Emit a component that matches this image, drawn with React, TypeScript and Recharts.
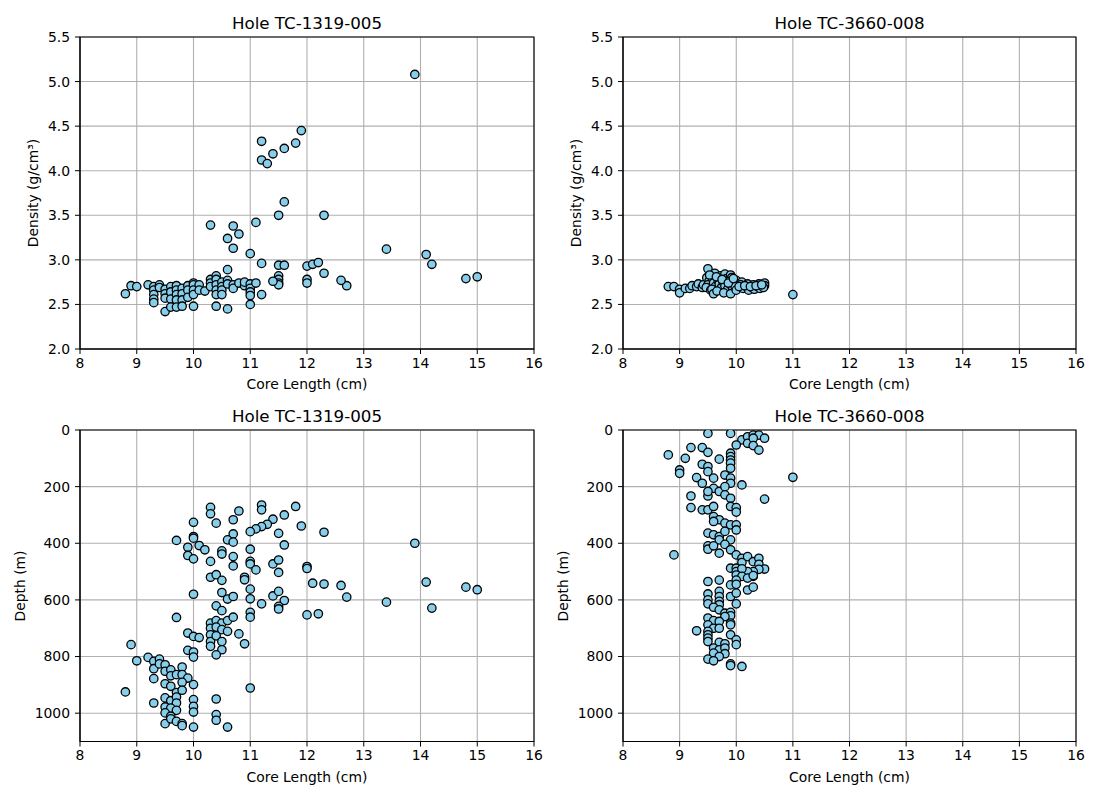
import { ScatterChart, Scatter, XAxis, YAxis, CartesianGrid, ReferenceArea } from "recharts";

// core length (cm) vs density (g/cm³), hole TC-1319-005
const hole1Density: [number, number][] = [
  [13.9, 5.08], [11.9, 4.45], [11.2, 4.33], [11.8, 4.31], [11.6, 4.25], [11.4, 4.19], [11.2, 4.12], [11.3, 4.08],
  [11.6, 3.65], [11.5, 3.5], [12.3, 3.5], [11.1, 3.42], [10.3, 3.39], [10.7, 3.38], [10.8, 3.29], [10.6, 3.24],
  [10.7, 3.13], [11.0, 3.07], [13.4, 3.12], [14.1, 3.06], [14.2, 2.95], [12.7, 2.71], [12.6, 2.77], [14.8, 2.79],
  [15.0, 2.81], [11.2, 2.96], [10.6, 2.89], [11.5, 2.94], [11.6, 2.94], [12.0, 2.93], [12.1, 2.95], [12.2, 2.97],
  [12.3, 2.85], [12.0, 2.78], [12.0, 2.74], [11.5, 2.82], [11.5, 2.78], [11.5, 2.74], [11.5, 2.72], [11.4, 2.76],
  [11.2, 2.61], [8.8, 2.62], [8.9, 2.71], [9.0, 2.7], [9.2, 2.72], [9.3, 2.7], [9.3, 2.66], [9.3, 2.61],
  [9.3, 2.56], [9.3, 2.52], [9.4, 2.72], [9.4, 2.69], [9.5, 2.67], [9.5, 2.62], [9.5, 2.57], [9.5, 2.42],
  [9.6, 2.7], [9.6, 2.64], [9.6, 2.56], [9.6, 2.47], [9.7, 2.71], [9.7, 2.66], [9.7, 2.61], [9.7, 2.55],
  [9.7, 2.47], [9.8, 2.68], [9.8, 2.62], [9.8, 2.55], [9.8, 2.48], [9.9, 2.71], [9.9, 2.66], [9.9, 2.58],
  [10.0, 2.74], [10.0, 2.72], [10.0, 2.66], [10.0, 2.61], [10.0, 2.48], [10.1, 2.72], [10.1, 2.66], [10.2, 2.65],
  [10.3, 2.78], [10.3, 2.74], [10.3, 2.7], [10.4, 2.82], [10.4, 2.78], [10.4, 2.72], [10.4, 2.66], [10.4, 2.61],
  [10.4, 2.48], [10.5, 2.75], [10.5, 2.7], [10.5, 2.66], [10.5, 2.61], [10.6, 2.77], [10.6, 2.73], [10.6, 2.45],
  [10.7, 2.72], [10.7, 2.68], [10.8, 2.74], [10.9, 2.71], [10.9, 2.75], [11.0, 2.73], [11.0, 2.68], [11.0, 2.64],
  [11.0, 2.6], [11.0, 2.5], [11.1, 2.74],
];

// core length (cm) vs depth (m), hole TC-1319-005
const hole1Depth: [number, number][] = [
  [10.3, 273], [10.3, 296], [10.8, 286], [11.2, 265], [11.2, 282], [11.8, 270], [11.6, 300], [11.4, 315],
  [11.3, 333], [11.2, 341], [11.1, 349], [11.0, 359], [11.9, 339], [12.3, 361], [11.5, 365], [11.6, 406],
  [10.0, 326], [10.4, 329], [10.7, 317], [10.7, 367], [10.6, 388], [10.7, 396], [10.0, 376], [10.0, 382],
  [9.7, 390], [9.9, 414], [10.1, 408], [10.2, 423], [9.9, 443], [10.0, 455], [10.5, 427], [10.5, 438],
  [10.3, 464], [10.7, 447], [10.7, 480], [11.0, 421], [11.0, 464], [11.0, 473], [11.1, 494], [11.4, 473],
  [11.5, 459], [11.5, 503], [12.0, 482], [12.0, 489], [10.3, 520], [10.4, 511], [10.5, 531], [10.9, 520],
  [10.9, 529], [12.1, 541], [12.3, 544], [12.6, 549], [12.7, 590], [13.9, 400], [13.4, 608], [14.1, 537],
  [14.2, 629], [14.8, 555], [15.0, 564], [10.0, 580], [10.5, 574], [10.6, 597], [10.7, 588], [11.0, 562],
  [11.0, 596], [11.4, 586], [11.5, 570], [11.6, 602], [11.2, 614], [11.5, 623], [11.5, 632], [12.0, 653],
  [12.2, 649], [10.4, 621], [10.5, 638], [11.0, 644], [11.0, 661], [9.7, 662], [10.3, 682], [10.4, 673],
  [10.5, 682], [10.6, 673], [10.7, 661], [10.3, 700], [10.4, 696], [10.5, 705], [10.6, 711], [10.3, 723],
  [10.3, 747], [10.3, 764], [10.4, 727], [10.5, 747], [10.5, 776], [10.4, 794], [10.8, 720], [10.9, 755],
  [9.9, 717], [10.0, 729], [10.1, 733], [9.9, 778], [10.0, 784], [10.0, 802], [8.9, 758], [9.0, 815],
  [9.2, 803], [9.3, 817], [9.4, 809], [9.3, 843], [9.3, 878], [9.4, 826], [9.5, 829], [9.5, 852],
  [9.6, 847], [9.6, 868], [9.7, 864], [9.8, 837], [9.8, 864], [9.9, 876], [9.8, 891], [9.5, 896],
  [9.6, 905], [9.7, 927], [9.8, 919], [10.0, 899], [8.8, 925], [9.3, 964], [9.5, 946], [9.6, 956],
  [9.7, 943], [9.7, 964], [10.0, 952], [10.0, 976], [10.0, 996], [9.5, 978], [9.6, 982], [9.7, 990],
  [9.5, 999], [9.6, 1011], [10.4, 950], [11.0, 911], [10.4, 1005], [10.4, 1025], [9.5, 1037], [9.6, 1020],
  [9.7, 1029], [9.8, 1037], [9.8, 1044], [10.0, 1049], [10.6, 1049],
];

// hole TC-3660-008
const hole2Density: [number, number][] = [
  [8.8, 2.7], [8.9, 2.7], [9.0, 2.67], [9.0, 2.63], [9.1, 2.68], [9.18, 2.68], [9.22, 2.71], [9.3, 2.7],
  [9.33, 2.73], [9.4, 2.69], [9.42, 2.72], [9.5, 2.9], [9.48, 2.8], [9.52, 2.76], [9.5, 2.72], [9.47, 2.69],
  [9.55, 2.66], [9.62, 2.85], [9.58, 2.79], [9.6, 2.74], [9.63, 2.7], [9.57, 2.67], [9.6, 2.62], [9.72, 2.82],
  [9.68, 2.77], [9.7, 2.73], [9.74, 2.69], [9.66, 2.65], [9.8, 2.84], [9.83, 2.79], [9.77, 2.75], [9.8, 2.71],
  [9.85, 2.67], [9.78, 2.63], [9.9, 2.83], [9.92, 2.8], [9.88, 2.76], [9.9, 2.72], [9.94, 2.68], [9.9, 2.62],
  [10.0, 2.77], [10.02, 2.73], [9.98, 2.7], [10.0, 2.66], [10.1, 2.75], [10.08, 2.72], [10.12, 2.68], [10.2, 2.73],
  [10.18, 2.7], [10.22, 2.66], [10.3, 2.72], [10.28, 2.69], [10.32, 2.67], [10.4, 2.73], [10.38, 2.7], [10.42, 2.68],
  [10.5, 2.74], [10.5, 2.71], [10.48, 2.69], [9.53, 2.83], [9.65, 2.81], [9.75, 2.78], [9.86, 2.74], [9.95, 2.79],
  [10.05, 2.7], [10.15, 2.71], [10.25, 2.7], [10.35, 2.71], [10.45, 2.72], [11.0, 2.61],
];

const hole2Depth: [number, number][] = [
  [9.5, 12], [9.9, 12], [10.1, 35], [10.2, 24], [10.3, 18], [10.4, 18], [10.5, 29], [10.2, 47],
  [10.3, 29], [10.3, 55], [10.4, 71], [10.0, 53], [8.8, 88], [9.1, 100], [9.2, 62], [9.4, 62],
  [9.5, 79], [9.7, 103], [9.9, 82], [9.9, 94], [9.9, 106], [9.9, 117], [9.9, 135], [9.0, 141],
  [9.0, 153], [9.4, 121], [9.5, 129], [9.5, 147], [9.8, 159], [9.9, 170], [9.9, 188], [9.3, 168],
  [9.4, 188], [9.6, 170], [10.1, 194], [11.0, 167], [9.6, 206], [9.7, 217], [9.8, 200], [9.2, 233],
  [9.5, 233], [9.5, 217], [9.8, 229], [9.9, 241], [10.5, 244], [9.2, 274], [9.4, 282], [9.5, 282],
  [9.6, 270], [9.9, 270], [10.0, 274], [10.0, 290], [9.6, 306], [9.7, 317], [9.6, 323], [9.8, 329],
  [9.9, 335], [10.0, 335], [10.0, 353], [9.5, 364], [9.6, 370], [9.7, 376], [9.7, 388], [9.8, 358],
  [9.9, 388], [9.5, 409], [9.5, 421], [9.6, 409], [9.7, 435], [9.8, 404], [9.9, 423], [10.0, 441],
  [8.9, 441], [10.1, 453], [10.1, 468], [10.2, 447], [10.3, 465], [10.4, 453], [10.4, 474], [10.5, 491],
  [10.4, 492], [10.3, 500], [10.3, 517], [10.2, 500], [9.9, 488], [10.0, 488], [10.0, 500], [10.1, 490],
  [10.0, 512], [10.1, 517], [10.2, 523], [10.3, 514], [9.9, 547], [9.7, 530], [9.5, 535], [10.0, 530],
  [10.0, 545], [10.2, 565], [10.3, 555], [9.5, 579], [9.5, 600], [9.5, 614], [9.7, 570], [9.7, 588],
  [9.7, 605], [9.7, 617], [9.9, 588], [10.0, 576], [10.0, 614], [9.6, 626], [9.7, 635], [9.8, 647],
  [9.9, 644], [9.9, 656], [9.8, 659], [9.5, 664], [9.6, 673], [9.7, 676], [9.5, 688], [9.6, 700],
  [9.7, 700], [9.9, 682], [9.9, 688], [9.3, 709], [9.5, 711], [9.5, 723], [9.5, 735], [9.5, 747],
  [9.9, 723], [10.0, 741], [10.0, 758], [9.7, 750], [9.8, 755], [9.6, 770], [9.7, 776], [9.8, 770],
  [9.8, 790], [9.6, 788], [9.7, 800], [9.5, 809], [9.6, 815], [9.9, 826], [9.9, 832], [10.1, 835],
];

const lengthTicks = [8, 9, 10, 11, 12, 13, 14, 15, 16];
const densityTicks = [2.0, 2.5, 3.0, 3.5, 4.0, 4.5, 5.0, 5.5];
const depthTicks = [0, 200, 400, 600, 800, 1000];

const FONT = '"DejaVu Sans", sans-serif';
const tickStyle = { fill: "#000", fontSize: 13.9, fontFamily: FONT };

const Dot = (p: any) => (
  <circle cx={p.cx} cy={p.cy} r={4.2} fill="#87CEEB" stroke="#000" strokeWidth={1.3} />
);

function Panel({ left, top, points, yDomain, yTicks, reversed, fmt, plotTop, title, yLabel, yLabelX }: any) {
  const data = points.map(([x, y]: [number, number]) => ({ x, y }));
  const plotH = reversed ? 311.5 : 312;
  const bottom = 400 - plotTop - plotH - 45;
  const plotLeft = left + 80;
  const plotW = left === 0 ? 454 : 453;
  return (
    <>
      <div style={{ position: "absolute", left, top, width: 550, height: 400 }}>
        <ScatterChart width={550} height={400} margin={{ top: plotTop, right: 550 - 80 - plotW, bottom, left: 0 }}>
          <CartesianGrid stroke="#b0b0b0" strokeWidth={1.1} />
          <XAxis type="number" dataKey="x" domain={[8, 16]} ticks={lengthTicks} interval={0} allowDataOverflow
            height={45} tickSize={5} tickMargin={4} tick={tickStyle} stroke="#000" />
          <YAxis type="number" dataKey="y" domain={yDomain} ticks={yTicks} interval={0} allowDataOverflow
            reversed={reversed} width={80} tickSize={5} tickMargin={5} tick={tickStyle} stroke="#000"
            tickFormatter={fmt} />
          <Scatter data={data} shape={Dot} isAnimationActive={false} />
          <ReferenceArea x1={8} x2={16} y1={yDomain[0]} y2={yDomain[1]} fill="none" stroke="#000" strokeWidth={1.1} />
        </ScatterChart>
      </div>
      <div style={{ position: "absolute", left: plotLeft + plotW / 2, top: top + plotTop - 14, transform: "translate(-50%,-50%)", fontSize: 16.7, whiteSpace: "nowrap", lineHeight: 1 }}>
        {title}
      </div>
      <div style={{ position: "absolute", left: plotLeft + plotW / 2, top: top + plotTop + plotH + 36, transform: "translate(-50%,-50%)", fontSize: 13.9, whiteSpace: "nowrap", lineHeight: 1 }}>
        Core Length (cm)
      </div>
      <div style={{ position: "absolute", left: left + yLabelX, top: top + plotTop + plotH / 2, transform: "translate(-50%,-50%) rotate(-90deg)", fontSize: 13.9, whiteSpace: "nowrap", lineHeight: 1 }}>
        {yLabel}
      </div>
    </>
  );
}

export default function App() {
  const dens = (v: number) => v.toFixed(1);
  const dep = (v: number) => String(v);
  return (
    <div style={{ position: "absolute", left: 0, top: 0, width: 1100, height: 800, background: "#fff", fontFamily: FONT, color: "#000" }}>
      <Panel left={0} top={0} plotTop={37} points={hole1Density} yDomain={[2, 5.5]} yTicks={densityTicks} fmt={dens}
        title="Hole TC-1319-005" yLabel="Density (g/cm³)" yLabelX={34} />
      <Panel left={543} top={0} plotTop={37} points={hole2Density} yDomain={[2, 5.5]} yTicks={densityTicks} fmt={dens}
        title="Hole TC-3660-008" yLabel="Density (g/cm³)" yLabelX={34} />
      <Panel left={0} top={400} plotTop={30} points={hole1Depth} yDomain={[0, 1100]} yTicks={depthTicks} fmt={dep} reversed
        title="Hole TC-1319-005" yLabel="Depth (m)" yLabelX={21} />
      <Panel left={543} top={400} plotTop={30} points={hole2Depth} yDomain={[0, 1100]} yTicks={depthTicks} fmt={dep} reversed
        title="Hole TC-3660-008" yLabel="Depth (m)" yLabelX={21} />
    </div>
  );
}
